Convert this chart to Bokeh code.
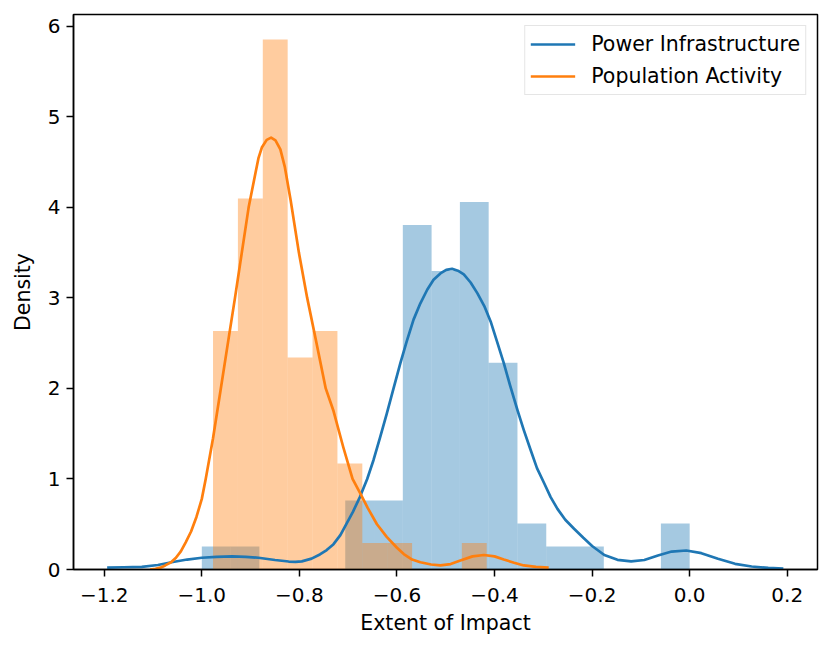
from bokeh.plotting import figure
from bokeh.models import Range1d, FixedTicker, CustomJSTickFormatter
from bokeh.embed import file_html
from bokeh.resources import INLINE

# ---- data ----
x_ticks = [-1.2, -1.0, -0.8, -0.6, -0.4, -0.2, 0.0, 0.2]
y_ticks = [0, 1, 2, 3, 4, 5, 6]

# Power Infrastructure histogram (density)
power_edges = [-1.0, -0.941, -0.882, -0.824, -0.765, -0.706, -0.647, -0.588, -0.529,
               -0.471, -0.412, -0.353, -0.294, -0.235, -0.176, -0.118, -0.059, 0.0]
power_density = [0.254, 0.254, 0, 0, 0, 0.761, 0.761, 3.806, 3.298, 4.060, 2.284,
                 0.507, 0.254, 0.254, 0, 0, 0.507]

# Population Activity histogram (density)
pop_edges = [-0.977, -0.926, -0.875, -0.824, -0.773, -0.722, -0.671, -0.620,
             -0.569, -0.518, -0.467, -0.416]
pop_density = [2.634, 4.098, 5.854, 2.342, 2.634, 1.171, 0.293, 0.293, 0, 0, 0.293]

# KDE curves
power_kde_x = [-1.194, -1.16, -1.123, -1.09, -1.062, -1.03, -1.0, -0.97, -0.938, -0.91,
               -0.884, -0.85, -0.822, -0.808, -0.795, -0.775, -0.758, -0.744, -0.730, -0.716,
               -0.703, -0.69, -0.676, -0.661, -0.648, -0.635, -0.621, -0.607, -0.593, -0.58,
               -0.566, -0.552, -0.538, -0.525, -0.511, -0.499, -0.487, -0.475, -0.463, -0.449,
               -0.435, -0.421, -0.408, -0.395, -0.381, -0.368, -0.353, -0.34, -0.326, -0.313,
               -0.298, -0.285, -0.271, -0.255, -0.237, -0.218, -0.2, -0.175, -0.148, -0.12,
               -0.093, -0.065, -0.037, -0.007, 0.024, 0.058, 0.093, 0.127, 0.161, 0.192]
power_kde_y = [0.02, 0.025, 0.03, 0.05, 0.08, 0.11, 0.13, 0.14, 0.144, 0.14,
               0.13, 0.105, 0.088, 0.084, 0.09, 0.12, 0.166, 0.215, 0.28, 0.38,
               0.51, 0.64, 0.80, 1.0, 1.21, 1.45, 1.72, 2.0, 2.28, 2.52,
               2.76, 2.94, 3.09, 3.2, 3.27, 3.31, 3.32, 3.3, 3.26, 3.17,
               3.05, 2.91, 2.74, 2.52, 2.28, 2.03, 1.76, 1.54, 1.32, 1.12,
               0.95, 0.8, 0.67, 0.55, 0.45, 0.35, 0.26, 0.16, 0.107, 0.089,
               0.105, 0.155, 0.198, 0.21, 0.18, 0.118, 0.063, 0.033, 0.018, 0.01]

pop_kde_x = [-1.106, -1.095, -1.085, -1.075, -1.063, -1.053, -1.043, -1.033, -1.022, -1.011,
             -1.0, -0.992, -0.977, -0.961, -0.946, -0.932, -0.918, -0.904, -0.89, -0.884,
             -0.877, -0.867, -0.858, -0.849, -0.839, -0.83, -0.818, -0.801, -0.784, -0.766,
             -0.746, -0.73, -0.71, -0.691, -0.676, -0.66, -0.641, -0.621, -0.60, -0.586,
             -0.569, -0.552, -0.53, -0.511, -0.49, -0.47, -0.445, -0.422, -0.40, -0.381,
             -0.36, -0.34, -0.315, -0.289]
pop_kde_y = [0.0, 0.008, 0.02, 0.045, 0.08, 0.13, 0.2, 0.3, 0.42, 0.58,
             0.78, 1.0, 1.45, 2.0, 2.52, 3.0, 3.5, 4.0, 4.38, 4.54,
             4.66, 4.745, 4.77, 4.74, 4.64, 4.45, 4.08, 3.5, 3.0, 2.53,
             2.0, 1.75, 1.35, 1.0, 0.85, 0.68, 0.5, 0.36, 0.24, 0.17,
             0.11, 0.08, 0.055, 0.045, 0.06, 0.10, 0.145, 0.16, 0.145, 0.11,
             0.075, 0.045, 0.03, 0.02]

series_names = ["Power Infrastructure", "Population Activity"]
blue = "#1f77b4"
orange = "#ff7f0e"
FONT = "DejaVu Sans"
FS = "20px"
FS_LABEL = "20.5px"

p = figure(width=823, height=639, output_backend="svg", toolbar_location=None,
           x_range=Range1d(-1.263, 0.262), y_range=Range1d(0, 6.13),
           min_border_left=73, min_border_right=6, min_border_top=14, min_border_bottom=70)

p.quad(left=power_edges[:-1], right=power_edges[1:], top=power_density, bottom=0,
       fill_color=blue, fill_alpha=0.4, line_color=None)
p.quad(left=pop_edges[:-1], right=pop_edges[1:], top=pop_density, bottom=0,
       fill_color=orange, fill_alpha=0.4, line_color=None)
p.line(power_kde_x, power_kde_y, line_color=blue, line_width=2.7, line_join="round",
       legend_label=series_names[0])
p.line(pop_kde_x, pop_kde_y, line_color=orange, line_width=2.7, line_join="round",
       legend_label=series_names[1])

p.grid.visible = False
p.outline_line_color = "black"
p.outline_line_width = 1.5
p.outline_line_alpha = 1.0
p.background_fill_color = "white"
p.border_fill_color = "white"

for ax in (p.xaxis[0], p.yaxis[0]):
    ax.axis_line_color = "black"
    ax.axis_line_width = 1.5
    ax.major_tick_line_color = "black"
    ax.major_tick_line_width = 1.5
    ax.major_tick_out = 7
    ax.major_tick_in = 0
    ax.minor_tick_out = 0
    ax.minor_tick_in = 0
    ax.major_label_text_font = FONT
    ax.major_label_text_font_size = FS
    ax.major_label_text_color = "black"
    ax.axis_label_text_font = FONT
    ax.axis_label_text_font_size = FS_LABEL
    ax.axis_label_text_font_style = "normal"
    ax.axis_label_text_color = "black"

p.xaxis.ticker = FixedTicker(ticks=x_ticks)
p.yaxis.ticker = FixedTicker(ticks=y_ticks)
p.xaxis.formatter = CustomJSTickFormatter(code="return tick.toFixed(1).replace('-', '\u2212');")
p.xaxis.axis_label = "Extent of Impact"
p.yaxis.axis_label = "Density"
p.xaxis.major_label_standoff = 11
p.xaxis.axis_label_standoff = 6
p.yaxis.major_label_standoff = 6
p.yaxis.axis_label_standoff = 10

lg = p.legend[0]
lg.location = "top_right"
lg.margin = 11
lg.padding = 5
lg.spacing = 6
lg.glyph_width = 45
lg.glyph_height = 26
lg.label_height = 26
lg.label_standoff = 16
lg.label_text_font = FONT
lg.label_text_font_size = FS_LABEL
lg.label_text_color = "black"
lg.border_line_color = "#cccccc"
lg.border_line_width = 1.2
lg.background_fill_color = "white"
lg.background_fill_alpha = 0.8

open("out.html", "w").write(file_html(p, INLINE))
